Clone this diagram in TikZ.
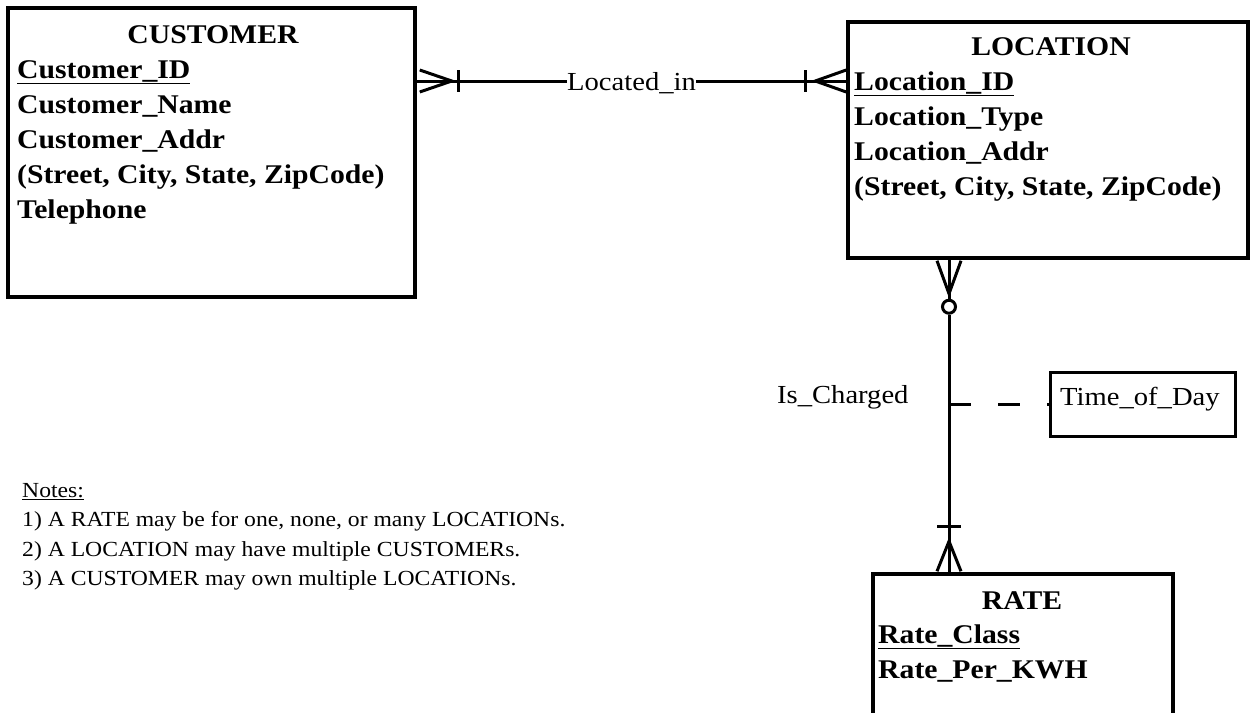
\documentclass[tikz,border=0pt]{standalone}
\usepackage{fontspec}
\setmainfont{Liberation Serif}[FakeStretch=1.1]
\usetikzlibrary{calc}
\begin{document}
\begin{tikzpicture}[x=1pt,y=-1pt,
  ent/.style={draw, line width=3.5pt, inner sep=0pt},
  rel/.style={line width=3pt},
  attr/.style={anchor=base west, inner sep=0pt, font=\fontsize{27}{30}\selectfont\bfseries},
  ttl/.style={anchor=base, inner sep=0pt, font=\fontsize{27}{30}\selectfont\bfseries},
  lbl/.style={anchor=base west, inner sep=0pt, font=\fontsize{26}{30}\selectfont},
  note/.style={anchor=base west, inner sep=0pt, font=\fontsize{21.5}{25}\selectfont}]
\useasboundingbox (0,0) rectangle (1252,712);
\fill[white] (0,0) rectangle (1252,712);
\clip (0,0) rectangle (1252,712);

% entities
\node[ent, minimum width=407pt, minimum height=289pt] (cust) at (211.5,152.5) {};
\node[ent, minimum width=400pt, minimum height=236pt] (loc) at (1048,140) {};
\node[ent, minimum width=300pt, minimum height=200pt] (rate) at (1023,674) {};
\node[draw, line width=3pt, minimum width=185pt, minimum height=64pt, inner sep=0pt] (tod) at (1142.5,404) {};
\node[lbl] (todt) at (1060,405) {Time\_of\_Day};

% CUSTOMER
\node[ttl] (ct) at (213,43) {CUSTOMER};
\node[attr] (c1) at (17,78) {\underline{Customer\_ID}};
\node[attr] (c2) at (17,113) {Customer\_Name};
\node[attr] (c3) at (17,148) {Customer\_Addr};
\node[attr] (c4) at (17,183) {(Street, City, State, ZipCode)};
\node[attr] (c5) at (17,218) {Telephone};

% LOCATION
\node[ttl] (lt) at (1051,55) {LOCATION};
\node[attr] (l1) at (854,90) {\underline{Location\_ID}};
\node[attr] (l2) at (854,125) {Location\_Type};
\node[attr] (l3) at (854,160) {Location\_Addr};
\node[attr] (l4) at (854,195) {(Street, City, State, ZipCode)};

% RATE
\node[ttl] (rtt) at (1022,609) {RATE};
\node[attr] (r1) at (878,643) {\underline{Rate\_Class}};
\node[attr] (r2) at (878,678) {Rate\_Per\_KWH};

% Located_in relationship
\node[lbl] (locin) at (567,90) {Located\_in};
\coordinate (ca) at (cust.east |- 0,81);
\coordinate (la) at (loc.west |- 0,81);
\draw[rel] (ca) -- (locin.west |- ca);
\draw[rel] (locin.east |- la) -- (la);
\draw[rel] ($(ca)+(3,-11)$) -- ($(ca)+(35,0)$) -- ($(ca)+(3,11)$);
\draw[rel] ($(ca)+(42,-11)$) -- ($(ca)+(42,11)$);
\draw[rel] ($(la)+(0,-11)$) -- ($(la)+(-31,0)$) -- ($(la)+(0,11)$);
\draw[rel] ($(la)+(-41,-11)$) -- ($(la)+(-41,11)$);

% Is_Charged relationship
\coordinate (vx) at (949,0);
\coordinate (lb) at (vx |- loc.south);
\coordinate (rt) at (vx |- rate.north);
\node[circle, draw, line width=3pt, minimum size=13pt, inner sep=0pt, fill=white] (opt) at ($(lb)+(0,47)$) {};
\draw[rel] (lb) -- (opt.north);
\draw[rel] ($(lb)+(-12,1)$) -- ($(lb)+(0,34)$) -- ($(lb)+(12,1)$);
\draw[rel] (opt.south) -- (rt);
\draw[rel] ($(rt)+(-12,-46)$) -- ($(rt)+(12,-46)$);
\draw[rel] ($(rt)+(-12,-1)$) -- ($(rt)+(0,-31)$) -- ($(rt)+(12,-1)$);
\node[lbl] (isc) at (777,403) {Is\_Charged};
\coordinate (dj) at (vx |- tod.west);
\draw[rel, dash pattern=on 22pt off 27pt] (dj) -- (tod.west);

% Notes
\node[note] (n0) at (22,497) {\underline{Notes:}};
\node[note] (n1) at (22,526) {1) A RATE may be for one, none, or many LOCATIONs.};
\node[note] (n2) at (22,556) {2) A LOCATION may have multiple CUSTOMERs.};
\node[note] (n3) at (22,585) {3) A CUSTOMER may own multiple LOCATIONs.};
\end{tikzpicture}
\end{document}
